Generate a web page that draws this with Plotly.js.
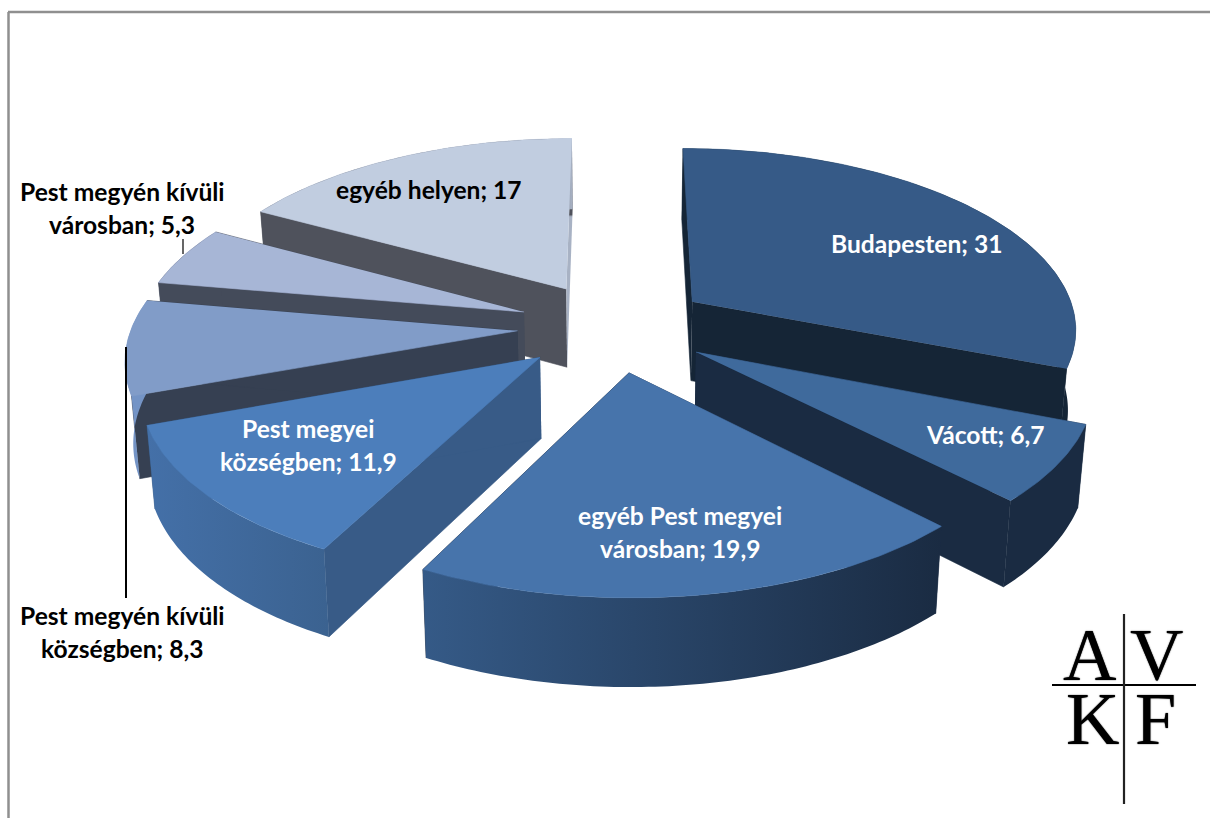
<!DOCTYPE html>
<html>
<head>
<meta charset="utf-8">
<script src="https://cdn.plot.ly/plotly-3.0.1.min.js"></script>
<style>html,body{margin:0;padding:0;background:#fff}#chart{width:1210px;height:818px}</style>
</head>
<body>
<div id="chart"></div>
<script>
// Data
var categories = ["Budapesten","Vácott","egyéb Pest megyei városban","Pest megyei községben","Pest megyén kívüli községben","Pest megyén kívüli városban","egyéb helyen"];
var values = [31, 6.7, 19.9, 11.9, 8.3, 5.3, 17];
var wrapAfter = ["", "", "egyéb Pest megyei", "Pest megyei", "Pest megyén kívüli", "Pest megyén kívüli", ""];

// Styles
var topColors = ["#365a87","#3f6a9c","#4774ab","#4c7ebb","#819cc8","#a7b6d6","#c1cde0"];
var sideColors = ["#152536","#1a2b42","#1b2c44","#385b87","#364052","#444b5a","#4f525c"];
var rimLeft = ["#152536","#1a2b42","#355a87","#4470a8","#7494c6","#444b5a","#4f525c"];
var rimRight = ["#152536","#1a2b42","#1a2b42","#3b6290","#7494c6","#444b5a","#a8b2c4"];
var labelColors = ["#fff","#fff","#fff","#fff","#000","#000","#000"];
var labelPos = [[916,243],[985,434],[680,532],[308,445],[122,632],[122,208],[429,189]];
var paintOrder = [6,0,5,4,1,3,2];

// Projection of the exploded, tilted pie
var PERSP = 7.2, YK = 9745, Y0 = -999.5, XV = 614, XK = 2835, W0 = -0.148, PULL = 0.25;
function project(X, w, lower) {
  var x = XV + XK * X / (PERSP - w), y = Y0 + YK / (PERSP - w);
  if (lower) { x = XV + (x - XV) * 0.983; y += 81 + 7.5 * w; }
  return [x, y];
}
function poly(points, props) {
  return Object.assign({
    type: "scatter", mode: "none", fill: "toself", hoverinfo: "skip", showlegend: false,
    x: points.map(function (p) { return p[0]; }), y: points.map(function (p) { return p[1]; })
  }, props);
}
function solid(c, name) {
  return { mode: "lines", line: { color: c, width: 0.6 }, fillcolor: c, name: name };
}

var total = values.reduce(function (a, b) { return a + b; }, 0);
var traces = [], slices = [], acc = 0;
values.forEach(function (v, i) {
  var a0 = acc / total * 2 * Math.PI; acc += v;
  var a1 = acc / total * 2 * Math.PI, mid = (a0 + a1) / 2;
  slices.push({ a0: a0, a1: a1, ax: PULL * Math.sin(mid), aw: W0 - PULL * Math.cos(mid) });
});
paintOrder.forEach(function (i) {
  var s = slices[i], top = [], low = [];
  var n = Math.max(4, Math.round((s.a1 - s.a0) / 0.015));
  for (var k = 0; k <= n; k++) {
    var t = s.a0 + (s.a1 - s.a0) * k / n;
    var X = s.ax + Math.sin(t), w = s.aw - Math.cos(t);
    top.push(project(X, w, false)); low.push(project(X, w, true));
  }
  var at = project(s.ax, s.aw, false), al = project(s.ax, s.aw, true);
  traces.push(poly([at, top[0], low[0], al], solid(sideColors[i])));
  if (i === 6) {
    // the back edge of this slice catches the light above the centre
    var yMin = top[n][1], yMax = al[1], f = (at[1] - yMin) / (yMax - yMin);
    traces.push(poly([at, top[n], low[n], al], {
      fillcolor: sideColors[i],
      fillgradient: { type: "vertical", start: yMax, stop: yMin,
        colorscale: [[0, "#a8b2c4"], [f, "#a8b2c4"], [Math.min(f + 0.01, 1), sideColors[i]], [1, sideColors[i]]] }
    }));
  } else {
    traces.push(poly([at, top[n], low[n], al], solid(sideColors[i])));
  }
  traces.push(poly(top.concat(low.slice().reverse()), {
    fillcolor: rimLeft[i],
    fillgradient: { type: "horizontal", colorscale: [[0, rimLeft[i]], [0.9, rimLeft[i]], [1, rimRight[i]]] }
  }));
  traces.push(poly([at].concat(top), solid(topColors[i], categories[i])));
});
// the two large front rims shade gradually from left to right
paintOrder.forEach(function (i, p) {
  if (i === 2 || i === 3) {
    traces[p * 4 + 2].fillgradient.colorscale = [[0, rimLeft[i]], [1, rimRight[i]]];
  }
});

// Labels
var annotations = [];
categories.forEach(function (c, i) {
  var txt = String(values[i]).replace(".", ",");
  var lines = wrapAfter[i] ? [wrapAfter[i], c.slice(wrapAfter[i].length + 1) + "; " + txt] : [c + "; " + txt];
  lines.forEach(function (line, k) {
    annotations.push({
      x: labelPos[i][0], y: labelPos[i][1] + (k - (lines.length - 1) / 2) * 33,
      xref: "x", yref: "y", xanchor: "center", yanchor: "middle", showarrow: false, text: line,
      font: { family: "Lato, Carlito, sans-serif", size: 24.6, weight: 700, color: labelColors[i] }
    });
  });
});
// Logo letters
var logoLetters = ["A","V","K","F"];
var logoPos = [[1089,655],[1156,655],[1092,719],[1155,719]];
logoLetters.forEach(function (l, i) {
  annotations.push({
    x: logoPos[i][0], y: logoPos[i][1], xref: "x", yref: "y", xanchor: "center", yanchor: "middle",
    showarrow: false, text: l,
    font: { family: "Liberation Serif, serif", size: 74, color: "#000", shadow: "0 0 1.2px #000" }
  });
});

function seg(x0, y0, x1, y1, color, width) {
  return { type: "line", xref: "x", yref: "y", x0: x0, y0: y0, x1: x1, y1: y1, line: { color: color, width: width } };
}
var shapes = [
  seg(8.5, 12, 8.5, 818, "#8f8f8f", 2.5), seg(8, 12, 1210, 12, "#8f8f8f", 2.5),
  seg(183, 239, 183, 254, "#000", 1.2), seg(126, 347, 126, 598, "#000", 2),
  seg(1052, 685, 1196, 685, "#000", 2.2), seg(1124, 614, 1124, 804, "#222", 2.2)
];

Plotly.newPlot("chart", traces, {
  width: 1210, height: 818, margin: { l: 0, r: 0, t: 0, b: 0 },
  paper_bgcolor: "#fff", plot_bgcolor: "#fff", showlegend: false,
  xaxis: { range: [0, 1210], visible: false, fixedrange: true },
  yaxis: { range: [818, 0], visible: false, fixedrange: true },
  annotations: annotations, shapes: shapes
}, { staticPlot: true, displayModeBar: false });
</script>
</body>
</html>
